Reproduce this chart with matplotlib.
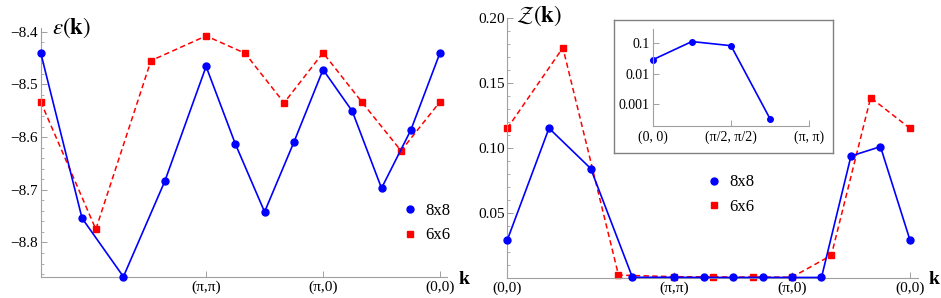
import numpy as np
import matplotlib.pyplot as plt
from matplotlib.ticker import MultipleLocator, FixedLocator, FixedFormatter

plt.rcParams['font.family'] = 'serif'
plt.rcParams['font.serif'] = ['Liberation Serif', 'DejaVu Serif']
plt.rcParams['mathtext.fontset'] = 'stix'

# -------- DATA --------
# k-points along Gamma -> M -> X -> Gamma (units of pi/4 and pi/3)
kpts8 = [(0, 0), (1, 1), (2, 2), (3, 3), (4, 4), (4, 3), (4, 2), (4, 1), (4, 0),
         (3, 0), (2, 0), (1, 0), (0, 0)]
kpts6 = [(0, 0), (1, 1), (2, 2), (3, 3), (3, 2), (3, 1), (3, 0), (2, 0), (1, 0), (0, 0)]

eps8 = [-8.440, -8.754, -8.865, -8.684, -8.466, -8.613, -8.742, -8.610, -8.472,
        -8.551, -8.697, -8.587, -8.440]
eps6 = [-8.533, -8.775, -8.455, -8.408, -8.441, -8.535, -8.440, -8.534, -8.626, -8.533]

z8 = [0.029, 0.115, 0.084, 0.00033, 0.0003, 0.0002, 0.0002, 0.0002, 0.0002,
      0.0002, 0.0936, 0.1008, 0.029]
z6 = [0.1149, 0.1769, 0.002, 0.0008, 0.0006, 0.0005, 0.0004, 0.0172, 0.1385, 0.1149]

xtick_names = ["(0,0)", "(π,π)", "(π,0)", "(0,0)"]
inset_names = ["(0, 0)", "(π/2, π/2)", "(π, π)"]


def path_dist(kpts, step):
    k = np.array(kpts, dtype=float) * step
    d = np.sqrt((np.diff(k, axis=0) ** 2).sum(axis=1))
    return np.concatenate([[0], np.cumsum(d)])


x8 = path_dist(kpts8, np.pi / 4)
x6 = path_dist(kpts6, np.pi / 3)
L = x8[-1]
sym = [0, np.sqrt(2) * np.pi, np.sqrt(2) * np.pi + np.pi, L]

W, H = 941, 298
fig = plt.figure(figsize=(W / 100, H / 100), dpi=100)
gray = '#a0a0a0'
fs = 11


def style(ax):
    for s in ['top', 'right']:
        ax.spines[s].set_visible(False)
    for s in ['left', 'bottom']:
        ax.spines[s].set_color(gray)
        ax.spines[s].set_linewidth(0.8)
    ax.tick_params(which='both', direction='in', color=gray, labelsize=fs)
    ax.tick_params(which='major', length=4, width=0.7)
    ax.tick_params(which='minor', length=2, width=0.6)
    ax.tick_params(axis='y', pad=2)
    ax.tick_params(axis='x', pad=3)
    ax.patch.set_alpha(0)


def plot_pair(ax, y8, y6):
    ax.plot(x8, y8, '-', color='#0000ff', lw=1.2, marker='o', ms=5,
            clip_on=False, label='8x8', zorder=3)
    ax.plot(x6, y6, '--', color='#ff0000', lw=1.1, marker='s', ms=4.3,
            clip_on=False, label='6x6', zorder=2, dashes=(3.5, 2.2))


def markers():
    return [plt.Line2D([], [], ls='', marker='o', color='#0000ff', ms=5),
            plt.Line2D([], [], ls='', marker='s', color='#ff0000', ms=4.3)]


# -------- LEFT: energy --------
ax1 = fig.add_axes([40.7 / W, 21.3 / H, (447 - 40.7) / W, 248.7 / H])
plot_pair(ax1, eps8, eps6)
ax1.set_xlim(0, L * 1.0175)
ax1.set_ylim(min(eps8), -8.393)
style(ax1)
ax1.yaxis.set_major_locator(FixedLocator([-8.8, -8.7, -8.6, -8.5, -8.4]))
ax1.yaxis.set_minor_locator(MultipleLocator(0.02))
ax1.set_yticklabels(['−8.8', '−8.7', '−8.6', '−8.5', '−8.4'])
ax1.set_xticks(sym[1:])
ax1.set_xticklabels(xtick_names[1:])
ax1.legend(markers(), ['8x8', '6x6'], loc='center left',
           bbox_to_anchor=(0.86, 0.215), frameon=False, fontsize=fs + 1,
           handlelength=0.6, handletextpad=0.6, labelspacing=0.5)

fig.text(52 / W, 1 - 28 / H, r'$\varepsilon(\mathbf{k})$', fontsize=16.5,
         ha='left', va='center')
fig.text(459 / W, 1 - 280 / H, 'k', fontsize=14, fontweight='bold',
         ha='left', va='center')

# -------- RIGHT: quasiparticle weight --------
ax2 = fig.add_axes([507.3 / W, 20.3 / H, (918 - 507.3) / W, 260 / H])
plot_pair(ax2, z8, z6)
ax2.set_xlim(0, L * 1.02)
ax2.set_ylim(0, 0.2)
style(ax2)
ax2.yaxis.set_major_locator(FixedLocator([0.05, 0.10, 0.15, 0.20]))
ax2.yaxis.set_minor_locator(MultipleLocator(0.01))
ax2.set_yticklabels(['0.05', '0.10', '0.15', '0.20'])
ax2.set_xticks(sym)
ax2.set_xticklabels(xtick_names)
ax2.legend(markers(), ['8x8', '6x6'], loc='center left',
           bbox_to_anchor=(0.455, 0.32), frameon=False, fontsize=fs + 1,
           handlelength=0.6, handletextpad=0.6, labelspacing=0.5)

fig.text(516 / W, 1 - 16 / H, r'$\mathcal{Z}(\mathbf{k})$', fontsize=16.5,
         ha='left', va='center')
fig.text(929 / W, 1 - 280 / H, 'k', fontsize=14, fontweight='bold',
         ha='left', va='center')

# -------- INSET: log scale along Gamma -> M --------
frame = fig.add_axes([614 / W, 1 - 153.3 / H, (832.7 - 614) / W, (153.3 - 20) / H])
frame.set_xticks([])
frame.set_yticks([])
for s in frame.spines.values():
    s.set_color('#808080')
    s.set_linewidth(1.0)

axi = fig.add_axes([652.7 / W, 1 - 126 / H, (809.3 - 652.7) / W, (126 - 29.3) / H])
kx_in = [k[0] * np.pi / 4 for k in kpts8[:4]]
axi.plot(kx_in, z8[:4], '-', color='#0000ff', lw=1.2, marker='o', ms=4, clip_on=False)
axi.set_yscale('log')
axi.set_ylim(0.000195, 0.29)
axi.set_xlim(0, np.pi)
style(axi)
axi.tick_params(which='both', labelsize=fs - 1)
axi.yaxis.set_major_locator(FixedLocator([0.001, 0.01, 0.1]))
axi.yaxis.set_major_formatter(FixedFormatter(['0.001', '0.01', '0.1']))
axi.yaxis.set_minor_locator(FixedLocator([]))
axi.set_xticks([0, np.pi / 2, np.pi])
axi.set_xticklabels(inset_names)

fig.savefig('out.png', dpi=100)
